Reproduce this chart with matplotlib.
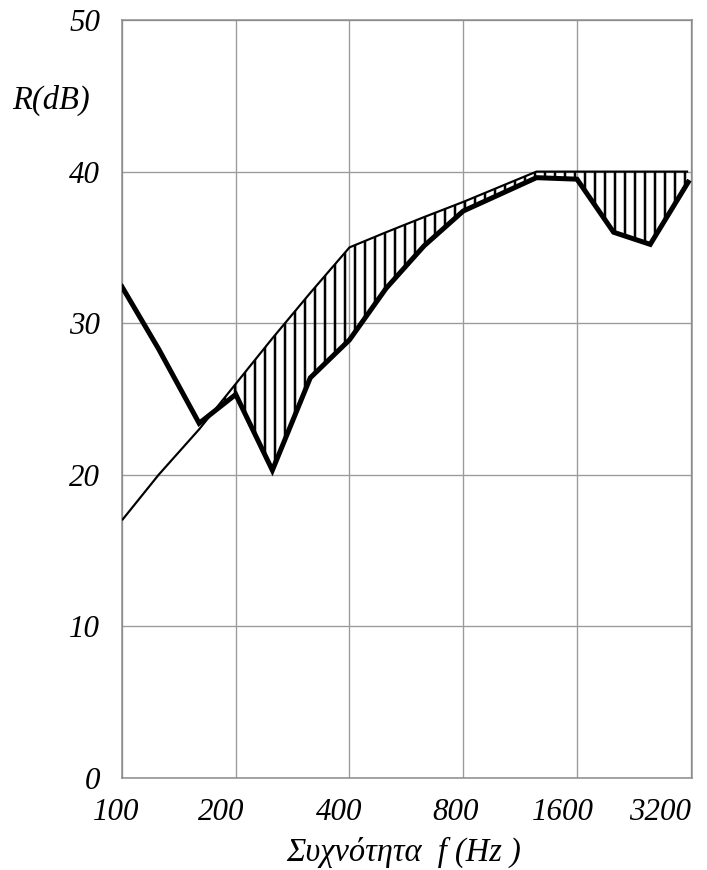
import numpy as np
import matplotlib
matplotlib.use("Agg")
import matplotlib.pyplot as plt
import matplotlib.transforms as mtransforms

# Data
freqs = [100, 125, 160, 200, 250, 315, 400, 500, 630, 800, 1000, 1250, 1600, 2000, 2500, 3150]
measured = [32.4, 28.3, 23.4, 25.3, 20.3, 26.4, 28.9, 32.3, 35.1, 37.4, 38.5, 39.6, 39.5, 36.0, 35.2, 39.3]
reference = [17, 20, 23, 26, 29, 32, 35, 36, 37, 38, 39, 40, 40, 40, 40, 40]
xticks = [100, 200, 400, 800, 1600, 3200]
xticklabels = ["100", "200", "400", "800", "1600", "3200"]
yticks = [0, 10, 20, 30, 40, 50]
ylabel_text = "R(dB)"
xlabel_text = "Συχνότητα  f (Hz )"

plt.rcParams['font.family'] = ['Liberation Serif', 'DejaVu Serif']
plt.rcParams['hatch.linewidth'] = 1.5
plt.rcParams['hatch.color'] = 'black'

DPI = 120
fig = plt.figure(figsize=(707 / DPI, 870 / DPI), dpi=DPI)
ax = fig.add_axes([122 / 707, 1 - 778 / 870, (692 - 122) / 707, (778 - 20) / 870])

f = np.array(freqs, dtype=float)
m = np.array(measured)
r = np.array(reference, dtype=float)

ax.fill_between(f, m, r, where=m < r, interpolate=True, facecolor='none',
                edgecolor='black', hatch='||', linewidth=0, zorder=2)
ax.plot(f, r, color='black', lw=1.3, zorder=3, solid_capstyle='butt')
ax.plot(f, m, color='black', lw=3.0, zorder=4, solid_joinstyle='miter')

ax.set_xscale('log')
ax.set_xlim(100, 3225)
ax.set_ylim(0, 50)
ax.set_xticks(xticks)
ax.set_xticklabels(xticklabels)
ax.minorticks_off()
ax.set_yticks(yticks)
ax.grid(True, color='#9a9a9a', lw=0.8)
ax.set_axisbelow(True)
for s in ax.spines.values():
    s.set_color('#8a8a8a')
    s.set_linewidth(0.9)

ax.tick_params(axis='both', length=0, labelsize=18.5)
ax.tick_params(axis='x', pad=12)
ax.tick_params(axis='y', pad=13)
for lab in ax.get_xticklabels() + ax.get_yticklabels():
    lab.set_fontstyle('italic')

# small horizontal shifts of x tick labels as in the reference
shifts_px = [-6, -15, -10, -8, -14, 0]
for lab, dx in zip(ax.get_xticklabels(), shifts_px):
    lab.set_transform(lab.get_transform() + mtransforms.Affine2D().translate(dx, 0))
last = ax.get_xticklabels()[-1]
last.set_horizontalalignment('right')
last.set_transform(ax.get_xaxis_transform() + mtransforms.ScaledTranslation(0, -12 / 72, fig.dpi_scale_trans))

fig.text(51 / 707, 1 - 100 / 870, ylabel_text, fontsize=19.5, style='italic', ha='center', va='center')
fig.text(404 / 707, 1 - 852 / 870, xlabel_text, fontsize=19.5, style='italic', ha='center', va='center')

fig.savefig('out.png', dpi=DPI)
